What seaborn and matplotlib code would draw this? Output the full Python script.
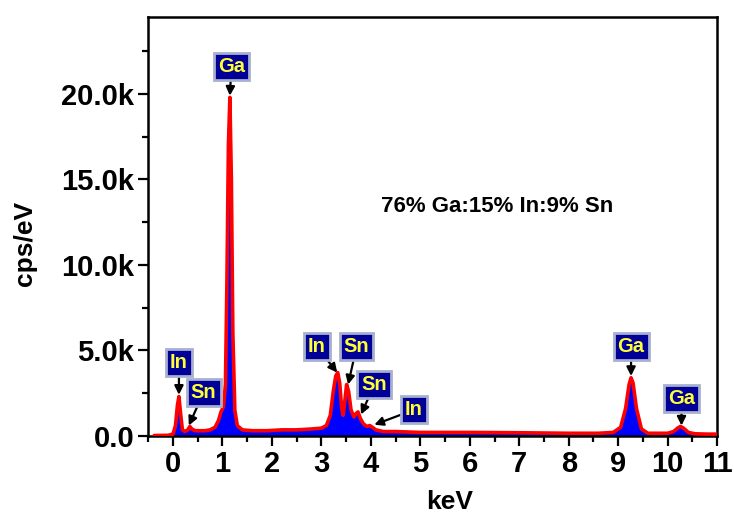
import matplotlib
matplotlib.use("Agg")
import matplotlib.pyplot as plt
import seaborn as sns
import pandas as pd

# EDS spectrum (keV, counts in k cps/eV)
energy = [-0.38, -0.1, 0.0, 0.05, 0.09, 0.12, 0.15, 0.19, 0.24, 0.30, 0.34, 0.38,
          0.45, 0.55, 0.65, 0.75, 0.85, 0.92, 0.97, 1.02, 1.06, 1.09, 1.12, 1.15,
          1.18, 1.21, 1.25, 1.30, 1.40, 1.6, 1.9, 2.2, 2.5, 2.8, 3.0, 3.1, 3.18,
          3.24, 3.29, 3.33, 3.37, 3.41, 3.44, 3.48, 3.51, 3.55, 3.60, 3.66, 3.70,
          3.74, 3.79, 3.85, 3.92, 3.98, 4.03, 4.1, 4.25, 4.5, 5.0, 6.0, 7.0, 8.0,
          8.6, 8.9, 9.05, 9.15, 9.22, 9.26, 9.30, 9.37, 9.47, 9.6, 9.8, 10.0,
          10.12, 10.2, 10.26, 10.32, 10.42, 10.55, 10.8, 11.0]
counts_k = [0.02, 0.03, 0.1, 0.6, 1.8, 2.3, 1.4, 0.35, 0.25, 0.35, 0.55, 0.4,
            0.3, 0.3, 0.3, 0.35, 0.5, 0.9, 1.4, 1.7, 3.0, 9.0, 17.0, 19.8,
            15.0, 6.0, 1.5, 0.6, 0.35, 0.3, 0.3, 0.35, 0.35, 0.4, 0.45, 0.6, 1.2,
            2.6, 3.5, 3.7, 3.1, 1.6, 1.2, 2.2, 3.0, 2.6, 1.5, 1.1, 1.3,
            1.4, 1.0, 0.7, 0.55, 0.6, 0.5, 0.35, 0.25, 0.25, 0.2, 0.2, 0.18, 0.15,
            0.15, 0.2, 0.5, 1.6, 3.0, 3.4, 3.1, 1.6, 0.4, 0.15, 0.15, 0.15,
            0.25, 0.45, 0.55, 0.45, 0.2, 0.12, 0.1, 0.1]

# peak labels: element, arrow tip (keV, k), label centre (keV, k)
peak_names = ["Ga", "In", "Sn", "In", "Sn", "Sn", "In", "Ga", "Ga"]
tip_x = [1.15, 0.12, 0.32, 3.32, 3.54, 3.80, 4.07, 9.26, 10.28]
tip_y = [19.9, 2.4, 0.6, 3.7, 3.0, 1.25, 0.65, 3.5, 0.6]
label_x = [1.18, 0.12, 0.62, 2.91, 3.71, 4.07, 4.87, 9.26, 10.28]
label_y = [21.6, 4.3, 2.55, 5.2, 5.2, 2.98, 1.52, 5.2, 2.2]

y_ticks = [0, 5, 10, 15, 20]
y_tick_labels = ["0.0", "5.0k", "10.0k", "15.0k", "20.0k"]
x_ticks = list(range(0, 12))

composition = "76% Ga:15% In:9% Sn"

sns.set_style("ticks")
plt.rcParams["font.family"] = ["Liberation Sans", "DejaVu Sans"]
plt.rcParams["font.weight"] = "bold"
plt.rcParams["text.color"] = "black"
plt.rcParams["axes.labelcolor"] = "black"
plt.rcParams["xtick.color"] = "black"
plt.rcParams["ytick.color"] = "black"
plt.rcParams["axes.edgecolor"] = "black"

df = pd.DataFrame({"keV": energy, "cps": counts_k})

fig = plt.figure(figsize=(7.34, 5.17), dpi=100)
ax = fig.add_axes([0.202, 0.157, 0.775, 0.810])

ax.fill_between(df["keV"], 0, df["cps"], color="#0000FF", lw=0, zorder=2)
sns.lineplot(data=df, x="keV", y="cps", ax=ax, color="#FF0000", lw=2.6,
             estimator=None, zorder=3)

for name, tx, ty, lx, ly in zip(peak_names, tip_x, tip_y, label_x, label_y):
    ax.annotate(name, xy=(tx, ty), xytext=(lx, ly), ha="center", va="center",
                fontsize=14.5, fontweight="bold", color="#FFFF33", zorder=5,
                bbox=dict(boxstyle="square,pad=0.2", fc="#000099",
                          ec="#A8B0D0", lw=2),
                arrowprops=dict(arrowstyle="-|>", color="black", lw=1.6,
                                mutation_scale=13, shrinkA=0, shrinkB=0))

ax.text(6.55, 13.4, composition, ha="center", va="center",
        fontsize=16, fontweight="bold")

ax.set_xlim(-0.38, 11)
ax.set_ylim(0, 24.5)
ax.set_xticks(x_ticks)
ax.set_xticks([i + 0.5 for i in range(-1, 11)], minor=True)
ax.set_yticks(y_ticks)
ax.set_yticklabels(y_tick_labels)
ax.set_yticks([2.5, 7.5, 12.5, 17.5, 22.5], minor=True)
ax.tick_params(axis="both", which="major", length=7, width=1.6,
               labelsize=21, direction="out", pad=3)
ax.tick_params(axis="both", which="minor", length=4, width=1.6, direction="out")
for lab in ax.get_xticklabels() + ax.get_yticklabels():
    lab.set_fontweight("bold")
for sp in ax.spines.values():
    sp.set_linewidth(1.8)
    sp.set_visible(True)

ax.set_xlabel("keV", fontsize=19, fontweight="bold")
ax.set_ylabel("cps/eV", fontsize=19, fontweight="bold")
ax.xaxis.set_label_coords(0.53, -0.13)
ax.yaxis.set_label_coords(-0.195, 0.46)

fig.savefig("out.png", dpi=100)
